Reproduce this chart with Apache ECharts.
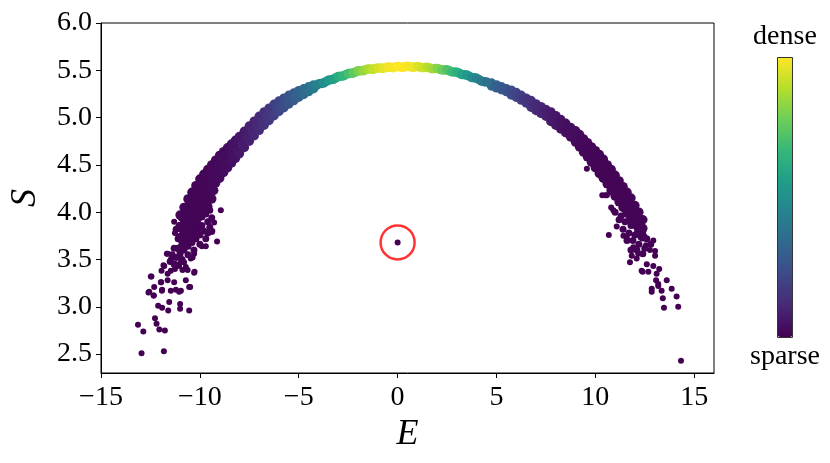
<!DOCTYPE html>
<html><head><meta charset="utf-8">
<script src="https://cdn.jsdelivr.net/npm/echarts@6/dist/echarts.min.js"></script>
<style>html,body{margin:0;padding:0;background:#fff}#c{width:830px;height:463px}</style>
</head><body><div id="c"></div>
<script>
// ---- tick labels ----
const xTicks = [-15, -10, -5, 0, 5, 10, 15];
const yTicks = [2.5, 3.0, 3.5, 4.0, 4.5, 5.0, 5.5, 6.0];
const colorbarText = ['dense', 'sparse'];

// ---- sparse tail points [E, S] (density ~ 0) ----
const tailLeft = [[-13.13,2.81],[-12.86,2.74],[-12.95,2.51],[-11.82,2.53],[-12.27,2.88],[-12.19,2.82],[-12.05,2.76],[-11.77,2.75],[-12.60,3.15],[-12.45,3.32],[-12.33,3.12],[-12.11,3.01],[-11.91,2.99],[-11.60,2.96],[-11.55,3.05],[-11.96,3.26],[-11.91,3.18],[-11.63,3.28],[-11.47,3.17],[-11.30,3.26],[-11.21,3.18],[-11.05,3.16],[-10.96,3.17],[-11.00,3.03],[-11.00,2.98],[-10.54,2.96],[-10.71,3.28],[-10.54,3.21],[-10.49,3.21],[-10.29,3.36],[-10.27,3.37],[-10.71,3.42],[-10.96,3.47],[-11.21,3.45],[-11.80,3.43],[-11.84,3.44],[-11.63,3.35],[-11.47,3.38],[-11.94,3.38],[-11.63,3.56],[-11.67,3.56],[-11.47,3.50],[-11.26,3.40],[-10.80,3.47],[-10.62,3.39],[-10.88,3.39],[-11.05,3.43],[-10.37,3.52],[-10.46,3.51],[-10.29,3.56],[-9.90,3.64],[-9.70,3.64],[-9.39,3.79],[-9.13,3.69],[-9.28,3.89],[-9.37,3.80],[-8.94,4.02],[-11.30,3.90],[-11.26,3.78],[-12.48,3.32],[-12.31,3.21],[-12.56,3.16],[-12.34,3.12],[-11.97,3.26],[-11.92,3.17]];
const tailRight = [[10.68,3.76],[11.08,3.85],[11.59,3.73],[11.92,3.63],[11.84,3.54],[12.17,3.56],[11.75,3.47],[12.09,3.51],[12.56,3.65],[12.76,3.60],[13.02,3.54],[12.60,3.45],[12.39,3.37],[12.68,3.37],[12.93,3.43],[13.23,3.40],[13.10,3.35],[13.07,3.28],[13.18,3.22],[13.61,3.28],[12.85,3.16],[13.35,3.17],[13.86,3.19],[13.41,3.09],[14.11,3.11],[13.47,2.99],[14.19,3.00],[14.33,2.43],[10.49,4.18],[10.91,4.02],[11.42,3.75],[12.93,3.70],[13.02,3.59],[10.35,4.18],[10.58,4.18],[9.57,4.46],[10.80,4.05],[12.34,3.38],[13.18,3.24],[12.85,3.19]];
const clusterLeft = [[-11.2,3.82],[-11.0,3.86],[-10.8,3.90],[-11.1,3.72],[-10.9,3.76],[-10.7,3.80],[-10.5,3.84],[-10.3,3.88],[-10.1,3.92],[-9.9,3.95],[-9.7,3.98],[-9.5,4.02],[-11.3,3.62],[-11.1,3.62],[-10.9,3.66],[-10.7,3.70],[-10.5,3.74],[-10.3,3.78],[-10.1,3.82],[-9.9,3.86],[-9.6,3.90],[-9.4,3.94],[-11.4,3.55],[-11.2,3.52],[-11.0,3.56],[-10.8,3.60],[-10.6,3.64],[-10.4,3.68],[-10.2,3.72],[-10.0,3.76],[-9.8,3.80],[-9.5,3.84],[-11.5,3.48],[-11.3,3.45],[-10.9,3.50],[-10.6,3.55],[-10.3,3.60],[-10.0,3.66],[-9.7,3.72],[-9.6,3.78]];
const clusterRight = [[11.2,3.92],[11.5,3.90],[11.8,3.86],[12.1,3.84],[12.4,3.80],[11.4,3.82],[11.7,3.78],[12.0,3.76],[12.3,3.74],[12.6,3.72],[11.6,3.70],[11.9,3.70],[12.2,3.66],[12.5,3.62],[12.8,3.66],[11.8,3.60],[12.1,3.60],[12.4,3.56],[11.3,3.96],[11.0,4.00],[11.6,4.00]];

// ---- band points [E, S, density] ----
const leftOuter = [[-11.0,3.97,0.01],[-11.0,3.85,0.01],[-11.0,3.73,0.01],[-11.0,3.61,0.01],[-10.8,4.05,0.01],[-10.8,3.93,0.01],[-10.8,3.81,0.01],[-10.8,3.69,0.01],[-10.6,4.14,0.01],[-10.6,4.01,0.01],[-10.6,3.88,0.01],[-10.6,3.75,0.01],[-10.4,4.21,0.01],[-10.4,4.08,0.01],[-10.4,3.95,0.01],[-10.4,3.82,0.01],[-10.2,4.28,0.01],[-10.2,4.15,0.01],[-10.2,4.02,0.01],[-10.2,3.89,0.01],[-10.0,4.35,0.012],[-10.0,4.22,0.012],[-10.0,4.09,0.012],[-10.0,3.96,0.012],[-9.8,4.40,0.015],[-9.8,4.27,0.015],[-9.8,4.14,0.015],[-9.8,4.01,0.015],[-9.6,4.45,0.015],[-9.6,4.32,0.015],[-9.6,4.19,0.015],[-9.6,4.06,0.015],[-9.4,4.50,0.02],[-9.4,4.38,0.02],[-9.4,4.26,0.02],[-9.4,4.14,0.02],[-9.2,4.55,0.02],[-9.2,4.43,0.02],[-9.2,4.31,0.02],[-9.0,4.60,0.025],[-9.0,4.48,0.025],[-9.0,4.36,0.025],[-8.8,4.64,0.03],[-8.8,4.53,0.03],[-8.8,4.42,0.03],[-8.6,4.68,0.035],[-8.6,4.575,0.035],[-8.6,4.47,0.035],[-8.4,4.72,0.04],[-8.4,4.62,0.04],[-8.4,4.52,0.04],[-8.2,4.76,0.05],[-8.2,4.665,0.05],[-8.2,4.57,0.05]];
const leftOuterFill = [[-10.9,3.95,0.01],[-10.9,3.83,0.01],[-10.9,3.71,0.01],[-10.7,4.03,0.01],[-10.7,3.91,0.01],[-10.7,3.79,0.01],[-10.5,4.11,0.01],[-10.5,3.98,0.01],[-10.5,3.85,0.01],[-10.3,4.18,0.01],[-10.3,4.05,0.01],[-10.3,3.92,0.01],[-10.1,4.25,0.011],[-10.1,4.12,0.011],[-10.1,3.99,0.011],[-9.9,4.31,0.013],[-9.9,4.18,0.013],[-9.9,4.05,0.013],[-9.7,4.36,0.015],[-9.7,4.23,0.015],[-9.7,4.10,0.015],[-9.5,4.41,0.018],[-9.5,4.29,0.018],[-9.5,4.17,0.018],[-9.3,4.465,0.02],[-9.3,4.345,0.02],[-9.3,4.23,0.02],[-9.1,4.51,0.022],[-9.1,4.39,0.022],[-8.9,4.56,0.028],[-8.9,4.45,0.028],[-8.7,4.60,0.032],[-8.7,4.50,0.032],[-8.5,4.645,0.038],[-8.5,4.545,0.038],[-8.3,4.69,0.045],[-8.3,4.59,0.045],[-8.1,4.735,0.055],[-8.1,4.64,0.055]];
const leftMid = [[-8.0,4.80,0.06],[-8.0,4.62,0.06],[-7.875,4.74,0.07],[-7.75,4.855,0.075],[-7.75,4.685,0.075],[-7.625,4.80,0.08],[-7.5,4.91,0.09],[-7.5,4.75,0.09],[-7.375,4.857,0.1],[-7.25,4.962,0.105],[-7.25,4.808,0.105],[-7.125,4.912,0.11],[-7.0,5.014,0.12],[-7.0,4.866,0.12],[-6.875,4.965,0.13],[-6.75,5.06,0.14],[-6.75,4.92,0.14],[-6.625,5.012,0.15],[-6.5,5.10,0.16],[-6.5,4.97,0.16],[-6.375,5.057,0.17],[-6.25,5.14,0.185],[-6.25,5.02,0.185],[-6.125,5.10,0.2],[-6.0,5.175,0.21],[-6.0,5.065,0.21],[-5.875,5.138,0.22],[-5.75,5.205,0.235],[-5.75,5.105,0.235],[-5.625,5.172,0.25],[-5.5,5.235,0.26],[-5.5,5.145,0.26],[-5.375,5.205,0.27],[-5.25,5.26,0.285],[-5.25,5.18,0.285],[-5.125,5.235,0.30],[-5.0,5.285,0.31],[-5.0,5.215,0.31],[-4.875,5.262,0.325],[-4.75,5.305,0.34],[-4.75,5.245,0.34],[-4.625,5.288,0.355],[-4.5,5.325,0.37],[-4.5,5.275,0.37],[-4.375,5.312,0.39],[-4.25,5.345,0.41],[-4.25,5.305,0.41],[-4.125,5.338,0.43]];
const topBand = [[-4.0,5.355,0.45],[-3.75,5.365,0.49],[-3.5,5.395,0.53],[-3.25,5.405,0.57],[-3.0,5.435,0.62],[-2.75,5.44,0.66],[-2.5,5.465,0.70],[-2.25,5.47,0.75],[-2.0,5.495,0.80],[-1.75,5.495,0.84],[-1.5,5.515,0.88],[-1.25,5.51,0.91],[-1.0,5.525,0.94],[-0.75,5.52,0.96],[-0.5,5.535,0.98],[-0.25,5.528,0.99],[0.0,5.54,1.0],[0.25,5.532,1.0],[0.5,5.543,0.99],[0.75,5.532,0.98],[1.0,5.54,0.95],[1.25,5.527,0.93],[1.5,5.533,0.89],[1.75,5.517,0.86],[2.0,5.52,0.81],[2.25,5.503,0.77],[2.5,5.505,0.72],[2.75,5.483,0.68],[3.0,5.48,0.63],[3.25,5.455,0.58],[3.5,5.45,0.53],[3.75,5.423,0.49],[4.0,5.415,0.45],[4.25,5.385,0.41],[4.5,5.375,0.37]];
const topBandMid = [[-3.875,5.36,0.47],[-3.625,5.38,0.51],[-3.375,5.40,0.55],[-3.125,5.42,0.60],[-2.875,5.438,0.64],[-2.625,5.453,0.68],[-2.375,5.468,0.73],[-2.125,5.483,0.78],[-1.875,5.495,0.82],[-1.625,5.505,0.86],[-1.375,5.513,0.90],[-1.125,5.518,0.93],[-0.875,5.523,0.95],[-0.625,5.528,0.97],[-0.375,5.532,0.99],[-0.125,5.534,1.0],[0.125,5.536,1.0],[0.375,5.538,1.0],[0.625,5.538,0.99],[0.875,5.536,0.97],[1.125,5.534,0.94],[1.375,5.53,0.91],[1.625,5.525,0.88],[1.875,5.518,0.84],[2.125,5.512,0.79],[2.375,5.504,0.75],[2.625,5.494,0.70],[2.875,5.482,0.66],[3.125,5.468,0.61],[3.375,5.453,0.56],[3.625,5.437,0.51],[3.875,5.42,0.47],[4.125,5.40,0.43],[4.375,5.38,0.39]];
const rightMid = [[4.75,5.365,0.34],[4.75,5.335,0.34],[4.875,5.34,0.33],[5.0,5.345,0.31],[5.0,5.315,0.31],[5.125,5.32,0.30],[5.25,5.325,0.285],[5.25,5.295,0.285],[5.375,5.30,0.27],[5.5,5.305,0.26],[5.5,5.275,0.26],[5.625,5.277,0.25],[5.75,5.29,0.235],[5.75,5.24,0.235],[5.875,5.252,0.22],[6.0,5.265,0.21],[6.0,5.215,0.21],[6.125,5.225,0.20],[6.25,5.235,0.185],[6.25,5.185,0.185],[6.375,5.195,0.17],[6.5,5.205,0.16],[6.5,5.155,0.16],[6.625,5.163,0.15],[6.75,5.18,0.14],[6.75,5.11,0.14],[6.875,5.128,0.13],[7.0,5.145,0.12],[7.0,5.075,0.12],[7.125,5.095,0.11],[7.25,5.115,0.105],[7.25,5.045,0.105],[7.375,5.065,0.10],[7.5,5.085,0.09],[7.5,5.015,0.09],[7.625,5.03,0.08],[7.75,5.06,0.075],[7.75,4.96,0.075],[7.875,4.99,0.07],[8.0,5.02,0.06],[8.0,4.92,0.06],[8.125,4.95,0.055],[8.25,4.98,0.05],[8.25,4.88,0.05],[8.375,4.91,0.045],[8.5,4.94,0.04],[8.5,4.84,0.04],[8.625,4.868,0.038],[8.75,4.895,0.035],[8.75,4.795,0.035],[8.875,4.82,0.033]];
const rightOuter = [[9.0,4.86,0.03],[9.0,4.80,0.03],[9.0,4.74,0.03],[9.2,4.82,0.025],[9.2,4.755,0.025],[9.2,4.69,0.025],[9.4,4.775,0.02],[9.4,4.705,0.02],[9.4,4.635,0.02],[9.6,4.735,0.02],[9.6,4.66,0.02],[9.6,4.585,0.02],[9.8,4.69,0.015],[9.8,4.61,0.015],[9.8,4.53,0.015],[10.0,4.65,0.015],[10.0,4.56,0.015],[10.0,4.47,0.015],[10.2,4.61,0.01],[10.2,4.51,0.01],[10.2,4.41,0.01],[10.4,4.56,0.01],[10.4,4.46,0.01],[10.4,4.36,0.01],[10.6,4.50,0.01],[10.6,4.40,0.01],[10.6,4.30,0.01],[10.8,4.45,0.01],[10.8,4.34,0.01],[10.8,4.23,0.01],[11.0,4.39,0.01],[11.0,4.28,0.01],[11.0,4.17,0.01],[11.2,4.33,0.01],[11.2,4.22,0.01],[11.2,4.11,0.01],[11.4,4.27,0.01],[11.4,4.16,0.01],[11.4,4.05,0.01],[11.6,4.21,0.01],[11.6,4.10,0.01],[11.6,3.99,0.01],[11.8,4.15,0.01],[11.8,4.04,0.01],[11.8,3.93,0.01],[12.0,4.07,0.01],[12.0,3.97,0.01],[12.0,3.87,0.01],[12.2,4.00,0.01],[12.2,3.90,0.01],[12.2,3.80,0.01],[12.4,3.92,0.01],[12.4,3.83,0.01],[12.4,3.74,0.01]];
const rightOuterFill = [[9.1,4.81,0.028],[9.1,4.75,0.028],[9.3,4.765,0.022],[9.3,4.695,0.022],[9.5,4.72,0.02],[9.5,4.645,0.02],[9.7,4.675,0.018],[9.7,4.595,0.018],[9.9,4.63,0.015],[9.9,4.54,0.015],[10.1,4.585,0.012],[10.1,4.485,0.012],[10.3,4.535,0.01],[10.3,4.435,0.01],[10.5,4.48,0.01],[10.5,4.38,0.01],[10.7,4.425,0.01],[10.7,4.315,0.01],[10.9,4.365,0.01],[10.9,4.255,0.01],[11.1,4.305,0.01],[11.1,4.195,0.01],[11.3,4.245,0.01],[11.3,4.135,0.01],[11.5,4.185,0.01],[11.5,4.075,0.01],[11.7,4.125,0.01],[11.7,4.015,0.01],[11.9,4.055,0.01],[11.9,3.955,0.01],[12.1,3.985,0.01],[12.1,3.885,0.01],[12.3,3.91,0.01],[12.3,3.82,0.01]];

// ---- highlighted outlier ----
const outlier = [[0.0, 3.68, 0]];

const viridis = ['#440154','#482878','#3e4989','#31688e','#26828e','#1f9e89','#35b779','#6ece58','#b5de2b','#fde725'];
const serif = "'Liberation Serif', 'Times New Roman', serif";

const withD = (arr, d) => arr.map(p => [p[0], p[1], d]);
const minus = v => (v < 0 ? '\u2212' + Math.abs(v) : String(v));

function sc(name, data, size) {
  return { type: 'scatter', name: name, data: data, symbolSize: size, symbol: 'circle',
    itemStyle: { opacity: 1 }, emphasis: { disabled: true }, silent: true };
}

const series = [
  sc('tailL', withD(tailLeft, 0), 6),
  sc('tailR', withD(tailRight, 0), 6),
  sc('clL', withD(clusterLeft, 0.005), 7),
  sc('clR', withD(clusterRight, 0.005), 7),
  sc('lo', leftOuter, 9.5),
  sc('lof', leftOuterFill, 9.5),
  sc('ro', rightOuter, 9.5),
  sc('rof', rightOuterFill, 9.5),
  sc('lm', leftMid, 9.5),
  sc('rm', rightMid, 9.5),
  sc('topm', topBandMid, 9.5),
  sc('top', topBand, 9.5),
  sc('outlier', outlier, 6),
  { type: 'scatter', name: 'ring', data: outlier.map(p => [p[0], p[1]]), symbolSize: 34, silent: true,
    itemStyle: { color: 'rgba(0,0,0,0)', borderColor: '#ff0000', borderWidth: 2.5 }, z: 5 }
];

const chart = echarts.init(document.getElementById('c'), null, { renderer: 'canvas' });
chart.setOption({
  animation: false,
  backgroundColor: '#ffffff',
  grid: { left: 100, top: 23, right: 116, bottom: 90, show: true, borderColor: '#000', borderWidth: 1, backgroundColor: 'transparent' },
  xAxis: {
    type: 'value', min: -15, max: 16,
    name: 'E', nameLocation: 'middle', nameGap: 37,
    nameTextStyle: { fontFamily: serif, fontStyle: 'italic', fontSize: 36, color: '#000' },
    axisLine: { show: true, onZero: false, lineStyle: { color: '#000', width: 1 } },
    axisTick: { show: true, length: 5, lineStyle: { color: '#000' }, customValues: xTicks },
    axisLabel: { fontFamily: serif, fontSize: 28, color: '#000', margin: 11, customValues: xTicks, formatter: minus },
    splitLine: { show: false }
  },
  yAxis: {
    type: 'value', min: 2.3, max: 6.0,
    name: 'S', nameLocation: 'middle', nameGap: 57, nameRotate: 90,
    nameTextStyle: { fontFamily: serif, fontStyle: 'italic', fontSize: 36, color: '#000' },
    axisLine: { show: true, onZero: false, lineStyle: { color: '#000', width: 1 } },
    axisTick: { show: true, length: 5, lineStyle: { color: '#000' }, customValues: yTicks },
    axisLabel: { fontFamily: serif, fontSize: 28, color: '#000', margin: 9, customValues: yTicks, formatter: v => v.toFixed(1) },
    splitLine: { show: false }
  },
  visualMap: {
    type: 'continuous', min: 0, max: 1, dimension: 2,
    seriesIndex: [0,1,2,3,4,5,6,7,8,9,10,11,12],
    inRange: { color: viridis },
    calculable: false, hoverLink: false,
    text: colorbarText, textGap: 6,
    textStyle: { fontFamily: serif, fontSize: 28, color: '#000' },
    itemWidth: 15, itemHeight: 280,
    orient: 'vertical', left: 745, top: 18, padding: 5
  },
  graphic: [{
    type: 'rect', silent: true, z: 100,
    shape: { x: 777.5, y: 57.5, width: 15, height: 280 },
    style: { fill: 'none', stroke: '#333', lineWidth: 1 }
  }],
  series: series
});
</script></body></html>
